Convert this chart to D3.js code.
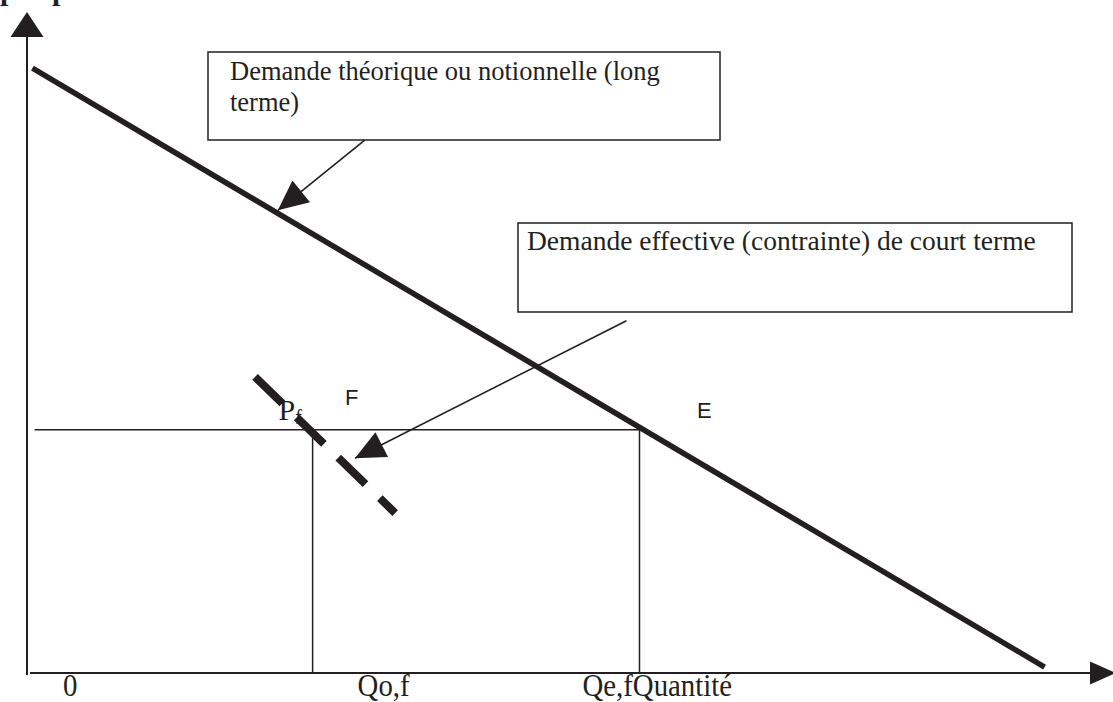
<!DOCTYPE html>
<html>
<head>
<meta charset="utf-8">
<script src="https://cdn.jsdelivr.net/npm/d3@7"></script>
<style>
  body { margin: 0; background: #fff; }
  svg { display: block; }
</style>
</head>
<body>
<div id="chart"></div>
<script>
// quantity / price in chart units (0..100 on each axis)
const longDemand = [{q: 0.5, p: 91.5}, {q: 93.7, p: 0.9}];
const shortDemand = [{q: 21.0, p: 44.8}, {q: 33.9, p: 24.2}];
const priceF = 36.8;
const qtyF = 26.3;
const qtyE = 56.4;
const tickLabels = ['0', 'Qo,f', 'Qe,fQuantité'];
const tickValues = [0, qtyF, qtyE];
const pointLabels = ['F', 'E'];
const boxTexts = [
    ['Demande théorique ou notionnelle (long', 'terme)'],
    ['Demande effective (contrainte) de court terme']
];
// arrows from the text boxes to the curves
const arrows = [
    {from: {q: 31.1, p: 80.6}, to: {q: 23.1, p: 70.0}},
    {from: {q: 55.2, p: 53.3}, to: {q: 30.2, p: 32.5}}
];

const width = 1113, height = 702;
const ink = '#231f20';

const svg = d3.select('#chart')
    .append('svg')
    .attr('width', width)
    .attr('height', height);

const x = d3.scaleLinear().domain([0, 100]).range([27, 1113]);
const y = d3.scaleLinear().domain([0, 100]).range([673, 12]);

// cut-off title at the very top
svg.append('text')
    .attr('x', 0).attr('y', -0.5)
    .style('font', 'bold 30px "Liberation Serif", serif')
    .attr('fill', ink)
    .text('prix');
svg.append('text')
    .attr('x', 52).attr('y', -0.5)
    .style('font', 'bold 30px "Liberation Serif", serif')
    .attr('fill', ink)
    .text('p');

// axes
svg.append('line')
    .attr('x1', x(0)).attr('x2', x(0))
    .attr('y1', y(0) + 2).attr('y2', 30)
    .attr('stroke', ink).attr('stroke-width', 2);
svg.append('path')
    .attr('d', `M${x(0)},12 L${x(0) - 16.5},37 L${x(0) + 16.5},37 Z`)
    .attr('fill', ink);

svg.append('line')
    .attr('x1', x(0) + 3).attr('x2', 1095)
    .attr('y1', y(0)).attr('y2', y(0))
    .attr('stroke', ink).attr('stroke-width', 2);
svg.append('path')
    .attr('d', `M1116,${y(0)} L1090,${y(0) - 11.5} L1090,${y(0) + 11.5} Z`)
    .attr('fill', ink);

// guide lines for Pf and quantities
svg.append('line')
    .attr('x1', x(0.7)).attr('x2', x(qtyE))
    .attr('y1', y(priceF)).attr('y2', y(priceF))
    .attr('stroke', ink).attr('stroke-width', 1.5);

svg.selectAll('.vline')
    .data([qtyF, qtyE])
    .enter()
    .append('line')
    .attr('class', 'vline')
    .attr('x1', d => x(d)).attr('x2', d => x(d))
    .attr('y1', y(priceF)).attr('y2', y(0))
    .attr('stroke', ink).attr('stroke-width', 1.5);

// long term demand
const line = d3.line().x(d => x(d.q)).y(d => y(d.p));
svg.append('path')
    .datum(longDemand)
    .attr('d', line)
    .attr('stroke', ink)
    .attr('stroke-width', 5.5)
    .attr('fill', 'none');

// Pf label (drawn under the dashed line)
const pf = svg.append('text')
    .attr('x', x(qtyF) - 34)
    .attr('y', y(priceF) - 10)
    .style('font', '30px "Liberation Serif", serif')
    .attr('fill', ink);
pf.append('tspan').text('P');
pf.append('tspan').attr('dy', 4).style('font-size', '20px').text('f');

// short term demand (dashed)
svg.append('path')
    .datum(shortDemand)
    .attr('d', line)
    .attr('stroke', ink)
    .attr('stroke-width', 8)
    .attr('stroke-dasharray', '38,20')
    .attr('fill', 'none');

// point labels
svg.selectAll('.plabel')
    .data(pointLabels)
    .enter()
    .append('text')
    .attr('class', 'plabel')
    .attr('x', (d, i) => i === 0 ? 345 : 697)
    .attr('y', (d, i) => i === 0 ? 405 : 418)
    .style('font', '22px "Liberation Sans", sans-serif')
    .attr('fill', ink)
    .text(d => d);

// tick labels under the x axis (narrow, tall glyphs)
const labelDx = [36, 45, -57];
svg.selectAll('.tlabel')
    .data(tickLabels)
    .enter()
    .append('text')
    .attr('class', 'tlabel')
    .attr('transform', (d, i) => `translate(${x(tickValues[i]) + labelDx[i]},696) scale(0.9,1)`)
    .style('font', '32px "Liberation Serif", serif')
    .attr('fill', ink)
    .text(d => d);

// annotation boxes
const boxes = [
    {x: 208, y: 52, w: 512, h: 88, tx: 230, ty: 80, size: 26.5},
    {x: 518, y: 223, w: 554, h: 89, tx: 527, ty: 250, size: 27.5}
];
boxes.forEach((b, i) => {
    svg.append('rect')
        .attr('x', b.x).attr('y', b.y)
        .attr('width', b.w).attr('height', b.h)
        .attr('fill', '#fff')
        .attr('stroke', ink)
        .attr('stroke-width', 1.5);
    const t = svg.append('text')
        .style('font', b.size + 'px "Liberation Serif", serif')
        .attr('fill', ink);
    boxTexts[i].forEach((s, j) => {
        t.append('tspan')
            .attr('x', b.tx)
            .attr('y', b.ty + j * 31)
            .text(s);
    });
});

// arrows
function arrowHead(tip, from, len, hw) {
    const dx = tip[0] - from[0], dy = tip[1] - from[1];
    const d = Math.sqrt(dx * dx + dy * dy);
    const ux = dx / d, uy = dy / d;
    const bx = tip[0] - ux * len, by = tip[1] - uy * len;
    return `M${tip[0]},${tip[1]} L${bx - uy * hw},${by + ux * hw} L${bx + uy * hw},${by - ux * hw} Z`;
}

arrows.forEach(a => {
    const from = [x(a.from.q), y(a.from.p)];
    const tip = [x(a.to.q), y(a.to.p)];
    svg.append('line')
        .attr('x1', from[0]).attr('y1', from[1])
        .attr('x2', tip[0]).attr('y2', tip[1])
        .attr('stroke', ink).attr('stroke-width', 1.6);
    svg.append('path')
        .attr('d', arrowHead(tip, from, 30, 14))
        .attr('fill', ink);
});
</script>
</body>
</html>
